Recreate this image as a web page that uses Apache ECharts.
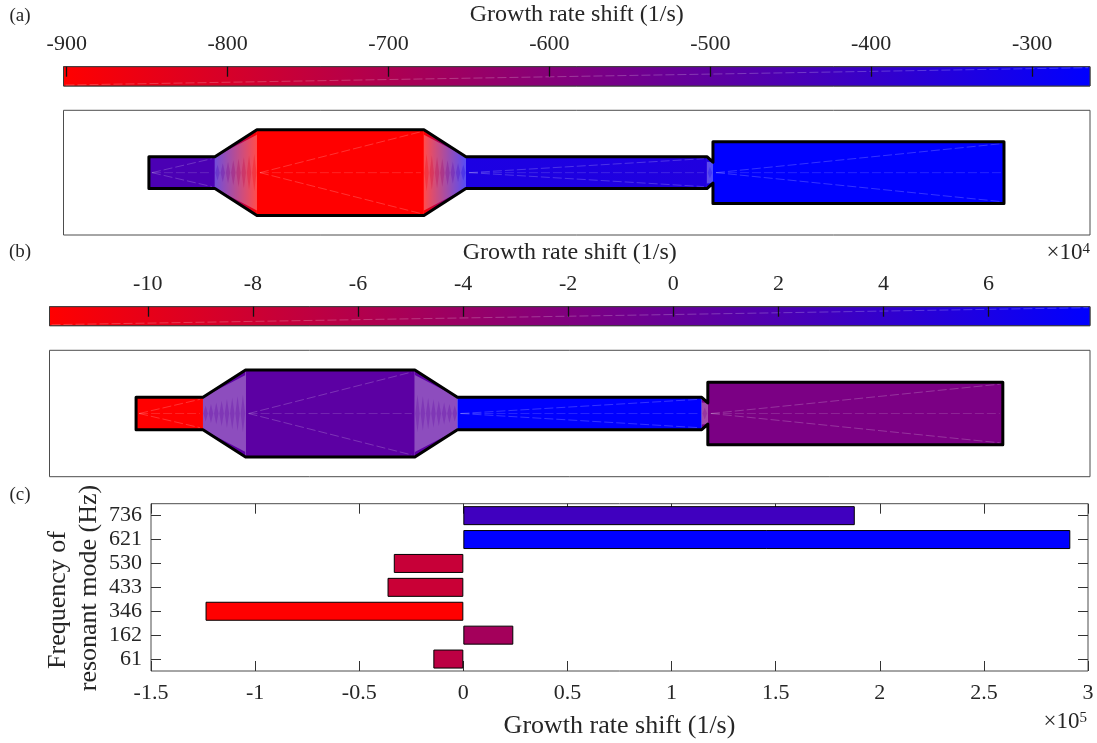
<!DOCTYPE html>
<html>
<head>
<meta charset="utf-8">
<title>Growth rate shift</title>
<script src="https://cdn.jsdelivr.net/npm/echarts@6/dist/echarts.min.js"></script>
<style>
	html,body{margin:0;padding:0;background:#fff;}
	#chart{width:1097px;height:743px;}
</style>
</head>
<body>
<div id="chart"></div>
<script>
'use strict';

//colorbar (a)
var rangeA = [-902, -264];
var ticksA = [-900, -800, -700, -600, -500, -400, -300];
//colorbar (b), x 10^4
var rangeB = [-11.87, 7.93];
var ticksB = [-10, -8, -6, -4, -2, 0, 2, 4, 6];

//duct shape: axial position and radius of the outline
var ductX = [0, 66, 108, 275, 317, 558, 564, 564, 855];
var ductR = [16, 16, 43, 43, 16, 16, 10.5, 31, 31];
var ductRangeX = [-85.4, 941];
var ductRangeY = [-62.5, 62.5];

//growth rate shift at both ends of each duct section
var sectionRatesA = [[-452, -452], [-400, -902], [-902, -902], [-902, -300], [-335, -345], [-345, -264], [-264, -264], [-264, -264]];
var sectionRatesB = [[-11.87, -11.87], [0.8, 0.8], [0.8, 0.8], [0.8, 0.8], [7.93, 7.93], [-1.6, -1.6], [-1.6, -1.6], [-1.6, -1.6]];

//bar chart (c), x 10^5
var modeFreqs = ['61', '162', '346', '433', '530', '621', '736'];
var modeShifts = [-0.144, 0.24, -1.238, -0.364, -0.334, 2.915, 1.88];
var barRange = [-1.238, 2.915];
var barTicks = [-1.5, 3];

var TEXT = '#262626';
var FONT = '"Liberation Serif", serif';

//red to blue colormap
function rateRGB(v, range){
	var t = (v - range[0]) / (range[1] - range[0]);
	t = Math.max(0, Math.min(1, t));
	return [Math.round(255 * (1 - t)), 0, Math.round(255 * t)];
}
function rateColor(v, range){
	return 'rgb(' + rateRGB(v, range).join(',') + ')';
}
function hGradient(c0, c1){
	return new echarts.graphic.LinearGradient(0, 0, 1, 0, [{offset: 0, color: c0}, {offset: 1, color: c1}]);
}

function seam(p0, p1, alpha){
	return {
		type: 'line',
		shape: {x1: p0[0], y1: p0[1], x2: p1[0], y2: p1[1]},
		style: {stroke: 'rgba(255,255,255,' + alpha + ')', lineWidth: 0.8, lineDash: [9, 3]},
		silent: true
	};
}

//the colorbar strip with its diagonal mesh seam
function colorbarRender(range){
	return function(params, api){
		var a = api.coord([range[0], 0]);
		var b = api.coord([range[1], 1]);
		return {
			type: 'group',
			children: [{
				type: 'rect',
				shape: {x: a[0], y: b[1], width: b[0] - a[0], height: a[1] - b[1]},
				style: {fill: hGradient('rgb(255,0,0)', 'rgb(0,0,255)'), stroke: '#3a3a3a', lineWidth: 1}
			}, seam([a[0] + 2, a[1] - 1], [b[0] - 2, b[1] + 1], 0.28)]
		};
	};
}

//the duct: one polygon per section, seams, then the black outline
function ductRender(rates, range){
	return function(params, api){
		var children = [];
		var upper = [], lower = [];
		for(var n = 0; n < ductX.length; n++){
			upper.push(api.coord([ductX[n], ductR[n]]));
			lower.unshift(api.coord([ductX[n], -ductR[n]]));
		}
		for(var i = 0; i < ductX.length - 1; i++){
			var x0 = ductX[i], x1 = ductX[i + 1];
			if(x0 === x1){
				continue;
			}
			var r0 = ductR[i], r1 = ductR[i + 1];
			var c0 = rateColor(rates[i][0], range), c1 = rateColor(rates[i][1], range);
			children.push({
				type: 'polygon',
				shape: {points: [api.coord([x0, r0]), api.coord([x1, r1]), api.coord([x1, -r1]), api.coord([x0, -r0])]},
				style: {fill: hGradient(c0, c1)}
			});
			if(r0 === r1){
				var mid = api.coord([x0 + 3, 0]);
				children.push(seam(mid, api.coord([x1 - 3, r1 - 2]), 0.25));
				children.push(seam(mid, api.coord([x1 - 3, -r1 + 2]), 0.25));
				children.push(seam(mid, api.coord([x1 - 3, 0]), 0.18));
			}else{
				//washed out cone: inner wedge lighter, dark strips on the axis
				var in0 = r0 > r1 ? r0 - 5 : r0, in1 = r1 > r0 ? r1 - 5 : r1;
				children.push({
					type: 'polygon',
					shape: {points: [api.coord([x0, in0]), api.coord([x1, in1]), api.coord([x1, -in1]), api.coord([x0, -in0])]},
					style: {fill: 'rgba(255,255,255,0.3)'}
				});
				var strips = Math.floor((x1 - x0) / 5);
				for(var k = 0; k < strips; k++){
					var f = (k + 0.5) / strips;
					var xk = x0 + (x1 - x0) * f;
					var rk = (r0 + (r1 - r0) * f) * 0.45;
					var rgb = rateRGB(rates[i][0] + (rates[i][1] - rates[i][0]) * f, range);
					children.push({
						type: 'polygon',
						shape: {points: [api.coord([xk - 2.2, 0]), api.coord([xk, rk]), api.coord([xk + 2.2, 0]), api.coord([xk, -rk])]},
						style: {fill: 'rgba(' + rgb.join(',') + ',0.28)'}
					});
				}
			}
		}
		children.push({
			type: 'polygon',
			shape: {points: upper.concat(lower)},
			style: {fill: 'none', stroke: '#000', lineWidth: 3, lineJoin: 'round'}
		});
		return {type: 'group', children: children};
	};
}

function hiddenAxis(gridIndex, range){
	return {type: 'value', gridIndex: gridIndex, show: false, min: range[0], max: range[1]};
}
function colorbarAxis(gridIndex, range, ticks, name, gap){
	return {
		type: 'value',
		gridIndex: gridIndex,
		position: 'top',
		z: 5,
		min: range[0],
		max: range[1],
		name: name,
		nameLocation: 'middle',
		nameGap: gap,
		nameTextStyle: {color: TEXT, fontFamily: FONT, fontSize: 24},
		axisLine: {show: false, onZero: false},
		splitLine: {show: false},
		axisTick: {show: true, inside: true, length: 10, customValues: ticks, lineStyle: {color: '#111', width: 1.3}},
		axisLabel: {show: true, customValues: ticks, margin: 11, color: TEXT, fontFamily: FONT, fontSize: 22}
	};
}
function boxGrid(left, top, right, bottom){
	return {show: true, outerBoundsMode: 'none', left: left, top: top, width: right - left, height: bottom - top, borderColor: '#4d4d4d', borderWidth: 1, backgroundColor: 'transparent'};
}
function pageText(x, y, text, size, rotation){
	return {
		type: 'text',
		x: x,
		y: y,
		rotation: rotation || 0,
		style: {text: text, fill: TEXT, font: size + 'px ' + FONT, align: 'center', verticalAlign: 'middle'}
	};
}
function powerText(x, y, power){
	return {
		type: 'text',
		x: x,
		y: y,
		style: {
			text: '{m|\u00d710}{p|' + power + '}',
			align: 'right',
			verticalAlign: 'middle',
			rich: {
				m: {fill: TEXT, font: '23px ' + FONT},
				p: {fill: TEXT, font: '15px ' + FONT, verticalAlign: 'top', padding: [0, 0, 7, 0]}
			}
		}
	};
}

var tickStyle = {color: '#333', width: 1};
var chart = echarts.init(document.getElementById('chart'));
var option = {
	animation: false,
	backgroundColor: '#fff',
	grid: [
		boxGrid(63.5, 66.7, 1090, 86),
		boxGrid(63.5, 110.3, 1090, 235),
		boxGrid(49.5, 306.7, 1090, 325.7),
		boxGrid(49.5, 350.3, 1090, 476.7),
		boxGrid(151, 503.7, 1088, 671)
	],
	xAxis: [
		colorbarAxis(0, rangeA, ticksA, 'Growth rate shift (1/s)', 40),
		hiddenAxis(1, ductRangeX),
		colorbarAxis(2, rangeB, ticksB, 'Growth rate shift (1/s)', 42),
		hiddenAxis(3, ductRangeX),
		{
			type: 'value',
			gridIndex: 4,
			min: barTicks[0],
			max: barTicks[1],
			interval: 0.5,
			name: 'Growth rate shift (1/s)',
			nameLocation: 'middle',
			nameGap: 42,
			nameTextStyle: {color: TEXT, fontFamily: FONT, fontSize: 26},
			axisLine: {show: false, onZero: false},
			splitLine: {show: false},
			axisTick: {show: true, inside: true, length: 10, lineStyle: tickStyle},
			axisLabel: {margin: 11, color: TEXT, fontFamily: FONT, fontSize: 22}
		},
		{
			type: 'value',
			gridIndex: 4,
			position: 'top',
			min: barTicks[0],
			max: barTicks[1],
			interval: 0.5,
			axisLine: {show: false, onZero: false},
			splitLine: {show: false},
			axisTick: {show: true, inside: true, length: 10, lineStyle: tickStyle},
			axisLabel: {show: false}
		}
	],
	yAxis: [
		hiddenAxis(0, [0, 1]),
		hiddenAxis(1, ductRangeY),
		hiddenAxis(2, [0, 1]),
		hiddenAxis(3, ductRangeY),
		{
			type: 'category',
			gridIndex: 4,
			data: modeFreqs,
			axisLine: {show: false, onZero: false},
			axisTick: {show: true, inside: true, length: 10, alignWithLabel: true, lineStyle: tickStyle},
			axisLabel: {margin: 9, interval: 0, color: TEXT, fontFamily: FONT, fontSize: 22}
		},
		{
			type: 'category',
			gridIndex: 4,
			position: 'right',
			data: modeFreqs,
			axisLine: {show: false, onZero: false},
			axisTick: {show: true, inside: true, length: 10, alignWithLabel: true, lineStyle: tickStyle},
			axisLabel: {show: false}
		}
	],
	series: [
		{type: 'custom', xAxisIndex: 0, yAxisIndex: 0, clip: false, data: [[0, 0]], renderItem: colorbarRender(rangeA)},
		{type: 'custom', xAxisIndex: 1, yAxisIndex: 1, clip: false, data: [[0, 0]], renderItem: ductRender(sectionRatesA, rangeA)},
		{type: 'custom', xAxisIndex: 2, yAxisIndex: 2, clip: false, data: [[0, 0]], renderItem: colorbarRender(rangeB)},
		{type: 'custom', xAxisIndex: 3, yAxisIndex: 3, clip: false, data: [[0, 0]], renderItem: ductRender(sectionRatesB, rangeB)},
		{
			type: 'bar',
			xAxisIndex: 4,
			yAxisIndex: 4,
			data: modeShifts,
			barWidth: 19,
			itemStyle: {
				borderColor: '#000',
				borderWidth: 1,
				color: function(p){
					return rateColor(p.value, barRange);
				}
			}
		}
	],
	graphic: [
		pageText(20, 16, '(a)', 19),
		pageText(20, 252, '(b)', 19),
		pageText(20, 495, '(c)', 19),
		pageText(58, 600, 'Frequency of', 26, Math.PI / 2),
		pageText(89, 588, 'resonant mode (Hz)', 26, Math.PI / 2),
		powerText(1090, 253, 4),
		powerText(1087, 722, 5)
	]
};
//使用刚指定的配置项和数据显示图表
chart.setOption(option);
</script>
</body>
</html>
